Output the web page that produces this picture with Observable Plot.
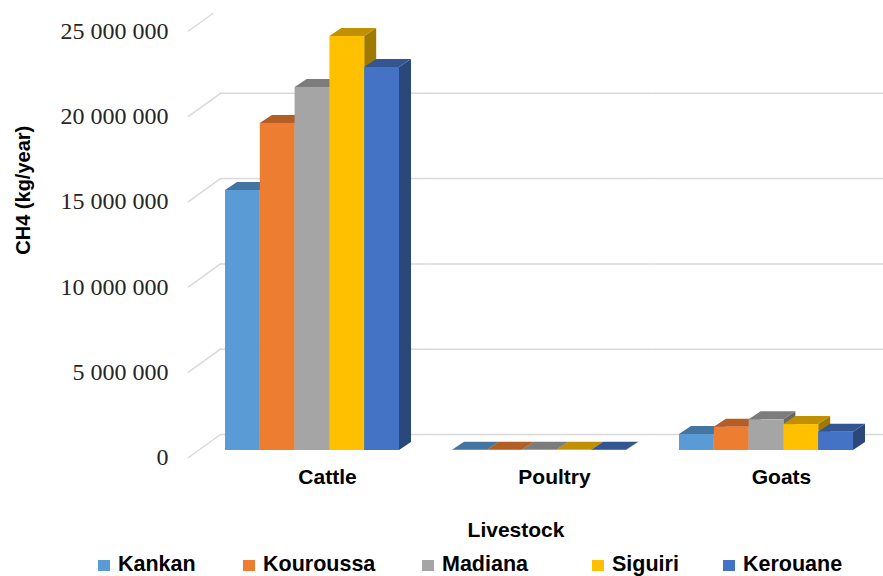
<!DOCTYPE html>
<html><head><meta charset="utf-8">
<script src="https://cdn.jsdelivr.net/npm/d3@7"></script>
<script src="https://cdn.jsdelivr.net/npm/@observablehq/plot@0.6"></script>
<style>
body{margin:0;background:#fff;}
#chart{position:relative;width:883px;height:576px;background:#fff;font-family:"Liberation Sans",Arial,sans-serif;overflow:hidden}
#chart svg{position:absolute;left:0;top:0;overflow:visible}
.xtitle{position:absolute;top:518px;left:516px;transform:translateX(-50%);font-weight:bold;font-size:21px;line-height:24px;color:#000;white-space:nowrap}
.leg{position:absolute;top:552px;font-weight:bold;font-size:21.5px;line-height:24px;white-space:nowrap;color:#000}
.leg i{display:inline-block;width:12px;height:11px;margin-right:8px;vertical-align:baseline}
</style></head><body><div id="chart"></div>
<script>
// ---- data ----
const categories = ["Cattle", "Poultry", "Goats"];
const cities = ["Kankan", "Kouroussa", "Madiana", "Siguiri", "Kerouane"];
const kankan    = [15240000, 20000,  940000];
const kouroussa = [19170000, 20000, 1370000];
const madiana   = [21280000, 20000, 1800000];
const siguiri   = [24270000, 20000, 1520000];
const kerouane  = [22450000, 20000, 1070000];
const yTicks = [0, 5000000, 10000000, 15000000, 20000000, 25000000];
const yTickLabels = ["0", "5 000 000", "10 000 000", "15 000 000", "20 000 000", "25 000 000"];
const xTitle = "Livestock";
const yTitle = "CH4 (kg/year)";

// ---- styles ----
const colors = ["#5B9BD5", "#ED7D31", "#A5A5A5", "#FFC000", "#4472C4"];
const grid = "#d9d9d9";
const DEPTH_X = 12, DEPTH_Y = 8;

const series = [kankan, kouroussa, madiana, siguiri, kerouane];
const rows = [];
categories.forEach((c, ci) => cities.forEach((s, si) => rows.push({category: c, city: s, value: series[si][ci]})));

// 3D extrusion of each bar: side and top faces drawn from the rendered rects
function extrude(index, scales, values, dimensions, context, next) {
  const g = next(index, scales, values, dimensions, context);
  const ns = "http://www.w3.org/2000/svg";
  const rects = Array.from(g.querySelectorAll("rect"));
  const sides = document.createElementNS(ns, "g");
  const tops = document.createElementNS(ns, "g");
  for (const r of rects) {
    const x = +r.getAttribute("x"), y = +r.getAttribute("y");
    const w = +r.getAttribute("width"), h = +r.getAttribute("height");
    const f = r.getAttribute("fill");
    const side = document.createElementNS(ns, "polygon");
    side.setAttribute("points", `${x + w},${y} ${x + w + DEPTH_X},${y - DEPTH_Y} ${x + w + DEPTH_X},${y + h - DEPTH_Y} ${x + w},${y + h}`);
    side.setAttribute("fill", d3.color(f).darker(1.3).formatHex());
    sides.appendChild(side);
    const top = document.createElementNS(ns, "polygon");
    top.setAttribute("points", `${x},${y} ${x + DEPTH_X},${y - DEPTH_Y} ${x + w + DEPTH_X},${y - DEPTH_Y} ${x + w},${y}`);
    top.setAttribute("fill", d3.color(f).darker(0.8).formatHex());
    tops.appendChild(top);
  }
  g.insertBefore(tops, g.firstChild);
  g.insertBefore(sides, g.firstChild);
  return g;
}

const lineShape = {draw(context, l) { context.moveTo(0, 0); context.lineTo(0, -l); }};
const labelOf = new Map(yTicks.map((t, i) => [t, yTickLabels[i]]));
const first = categories[0];
const gap = 26.5; // half the gap between facets

// back-wall gridlines, one segment per facet so they join into one line
const wallRules = categories.map((c, i) =>
  Plot.ruleY(yTicks.slice(0, -1), {
    fx: () => c, y: d => d, dy: -16,
    insetLeft: i === 0 ? -5 : -gap,
    insetRight: i === categories.length - 1 ? -30 : -gap,
    stroke: grid, strokeWidth: 1.5
  })
);

const plot = Plot.plot({
  width: 883, height: 500,
  marginLeft: 225, marginRight: 30, marginTop: 23.5, marginBottom: 50,
  style: {background: "transparent", fontFamily: "'Liberation Sans', Arial, sans-serif", overflow: "visible"},
  fx: {domain: categories, paddingInner: 0.2335, paddingOuter: 0, round: false},
  x: {domain: cities, padding: 0, round: false, axis: null},
  y: {domain: [0, 25000000]},
  color: {domain: cities, range: colors},
  marks: [
    ...wallRules,
    Plot.vector(yTicks.slice(0, -1), {fx: () => first, y: d => d, frameAnchor: "left", dx: -37, dy: 7, length: 39.4, rotate: 54.3, anchor: "start", shape: lineShape, stroke: grid, strokeWidth: 1.5}),
    Plot.vector(yTicks.slice(-1), {fx: () => first, y: d => d, frameAnchor: "left", dx: -37, dy: 7, length: 30, rotate: 54.3, anchor: "start", shape: lineShape, stroke: grid, strokeWidth: 1.5}),
    Plot.barY(rows, {fx: "category", x: "city", y: "value", fill: "city", inset: 0, render: extrude}),
    Plot.axisY({ticks: yTicks, tickFormat: d => labelOf.get(d), tickSize: 0, tickPadding: 57, dy: 7, fontSize: 24, fontFamily: "'Liberation Serif', 'Times New Roman', serif", fill: "#262626", label: null}),
    Plot.axisFx({anchor: "bottom", tickSize: 0, tickPadding: 19, dx: 15, fontSize: 21, fontWeight: "bold", fill: "#000", label: null}),
    Plot.text([yTitle], {fx: () => first, frameAnchor: "left", textAnchor: "middle", rotate: -90, dx: -202, dy: -47, fontSize: 20, fontWeight: "bold", fill: "#000"})
  ]
});

const chart = document.getElementById("chart");
chart.appendChild(plot);

const xt = document.createElement("div");
xt.className = "xtitle";
xt.textContent = xTitle;
chart.appendChild(xt);

const legendLeft = [98, 243, 422, 592, 723];
cities.forEach((c, i) => {
  const d = document.createElement("div");
  d.className = "leg";
  d.style.left = legendLeft[i] + "px";
  const sw = document.createElement("i");
  sw.style.background = colors[i];
  d.appendChild(sw);
  d.appendChild(document.createTextNode(c));
  chart.appendChild(d);
});
</script></body></html>
